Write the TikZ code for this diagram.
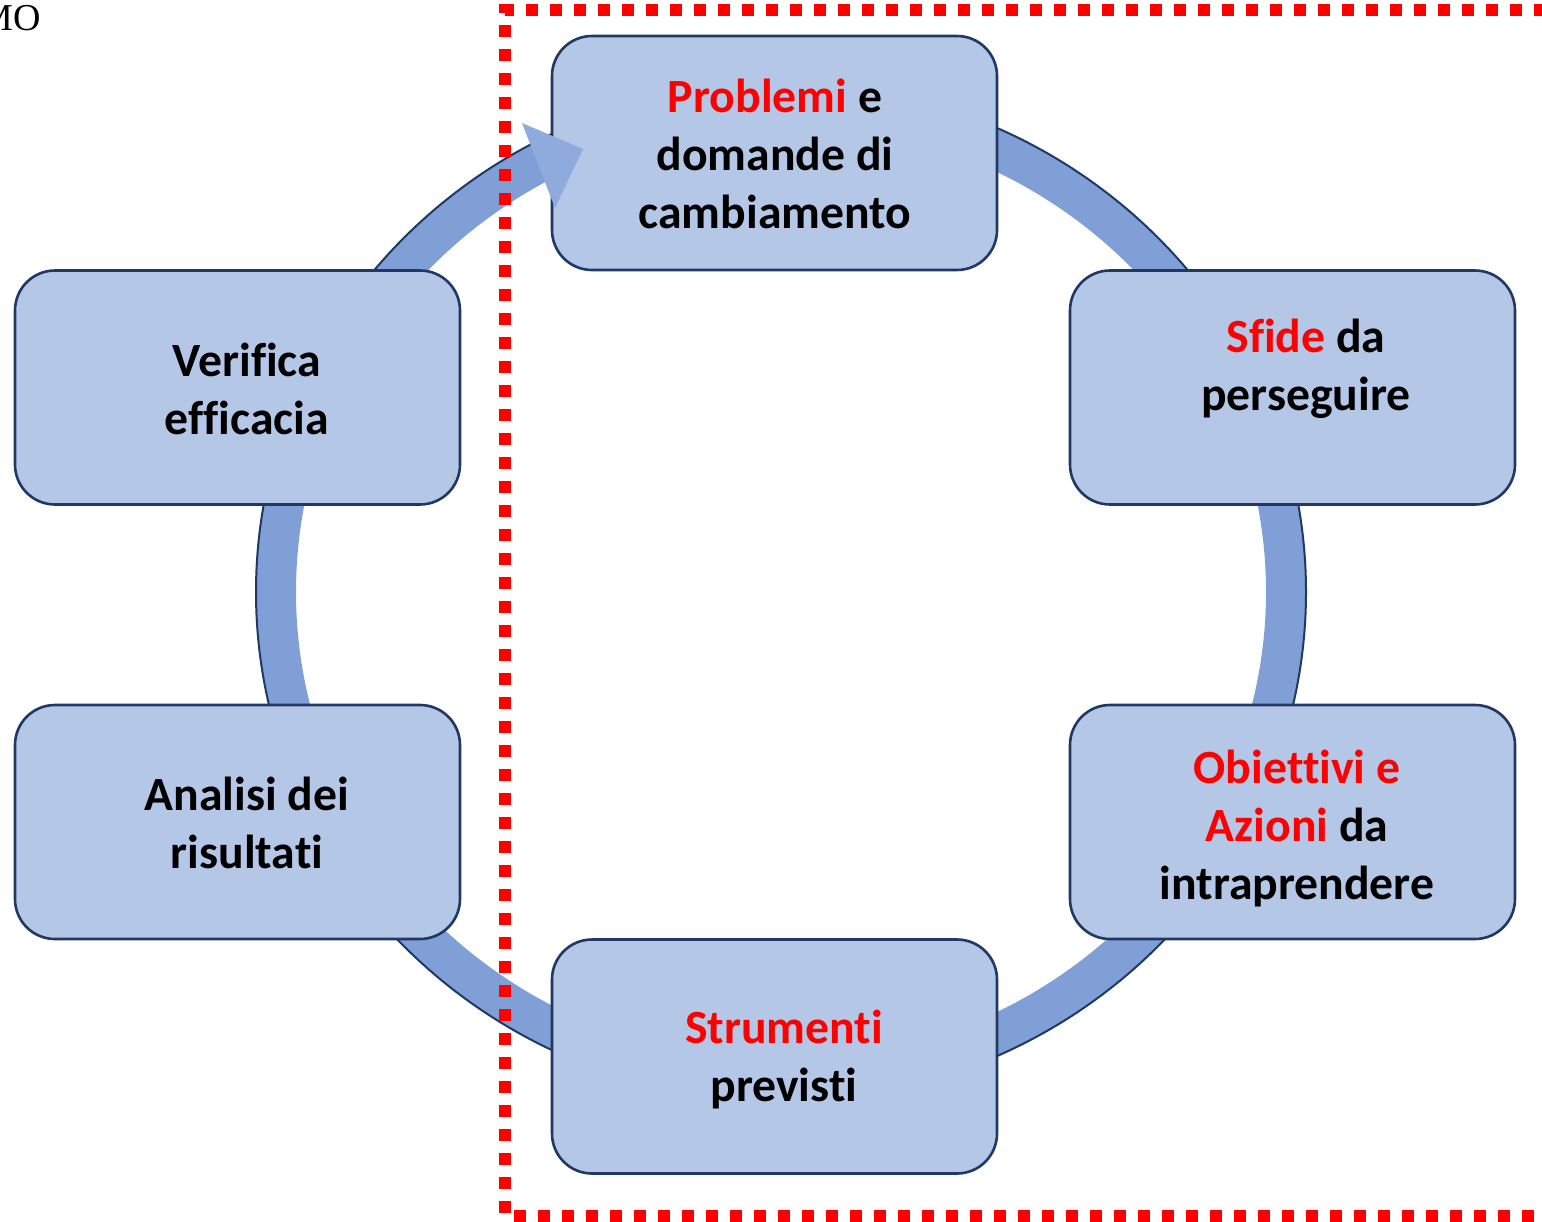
\documentclass[tikz,border=0pt]{standalone}
\usepackage{fontspec}
\setmainfont{Carlito}[Ligatures=NoCommon]
\newfontfamily\serifmo{Liberation Serif}
\definecolor{boxfill}{HTML}{B4C7E7}
\definecolor{boxline}{HTML}{1F3864}
\definecolor{ringc}{HTML}{7F9FD6}
\definecolor{headc}{HTML}{8FAADC}
\definecolor{hlred}{HTML}{FF0000}
\begin{document}
\begin{tikzpicture}[x=0.5pt,y=-0.5pt,
  cyclebox/.style={draw=boxline, line width=1.3pt, fill=boxfill, rounded corners=20pt,
    minimum width=222.5pt, minimum height=117pt, inner sep=0pt},
  boxtext/.style={font=\fontsize{23.85pt}{29pt}\selectfont\bfseries, align=center,
    inner sep=0pt, text=black},
  frame/.style={hlred, line width=6pt, dash pattern=on 6pt off 6pt}]
\useasboundingbox (0,0) rectangle (1542,1221);
\coordinate (c) at (781,592);
% ring
\fill[ringc, even odd rule] (c) ellipse [x radius=262.5pt, y radius=254.5pt]
  (c) ellipse [x radius=242.5pt, y radius=234.5pt];
\draw[boxline, line width=1pt] (c) ellipse [x radius=262.5pt, y radius=254.5pt];
% boxes
\node[cyclebox] (b1) at (774.5,153) {};
\node[cyclebox] (b2) at (1292.5,387.5) {};
\node[cyclebox] (b3) at (1292.5,822) {};
\node[cyclebox] (b4) at (774.5,1056.5) {};
\node[cyclebox] (b5) at (237.5,822) {};
\node[cyclebox] (b6) at (237.5,387.5) {};
% arrowhead
\fill[headc] (522,123) -- (583,149) -- (555,208) -- cycle;
% texts
\node[boxtext] (t1) at (775,154) {\textcolor{hlred}{Problemi} e\\domande di\\cambiamento};
\node[boxtext] (t2) at (1306,369) {\textcolor{hlred}{Sfide} da\\perseguire};
\node[boxtext] (t3) at (1297,829) {\textcolor{hlred}{Obiettivi e}\\\textcolor{hlred}{Azioni} da\\intraprendere};
\node[boxtext] (t4) at (784,1059) {\textcolor{hlred}{Strumenti}\\previsti};
\node[boxtext] (t5) at (247,823) {Analisi dei\\risultati};
\node[boxtext] (t6) at (247,389) {Verifica\\efficacia};
\node[font=\serifmo\fontsize{19pt}{19pt}\selectfont, anchor=base east, inner sep=0pt] (mo) at (41,30) {MO};
% dotted frame
\coordinate (f1) at (1570,10);
\coordinate (f2) at (505,10);
\coordinate (f3) at (505,1216);
\coordinate (f4) at (1570,1216);
\draw[frame] (f1) -- (f2) -- (f3) -- (f4);
\end{tikzpicture}
\end{document}
